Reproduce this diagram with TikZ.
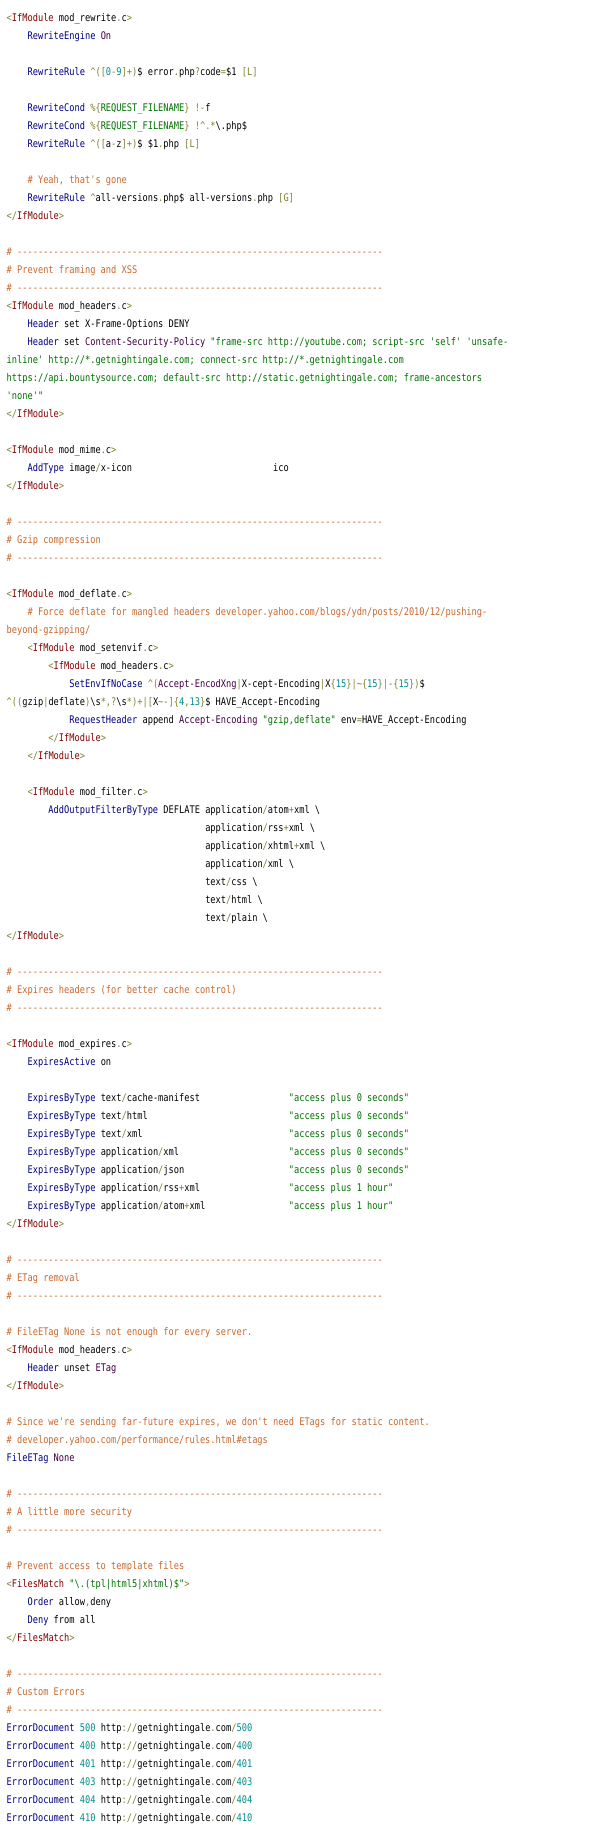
\documentclass[tikz,border=0pt]{standalone}
\usepackage{fontspec}
\setmonofont{DejaVu Sans Mono}
\usepackage{graphicx}
\definecolor{opc}{HTML}{808030}
\definecolor{kwc}{HTML}{800000}
\definecolor{dirc}{HTML}{000080}
\definecolor{valc}{HTML}{400040}
\definecolor{strc}{HTML}{007000}
\definecolor{cmtc}{HTML}{C8682D}
\definecolor{numc}{HTML}{008C8C}
\newcommand\Op[1]{\textcolor{opc}{#1}}
\newcommand\Kw[1]{\textcolor{kwc}{#1}}
\newcommand\Dr[1]{\textcolor{dirc}{#1}}
\newcommand\Vl[1]{\textcolor{valc}{#1}}
\newcommand\St[1]{\textcolor{strc}{#1}}
\newcommand\Cm[1]{\textcolor{cmtc}{#1}}
\newcommand\Nm[1]{\textcolor{numc}{#1}}
\newcommand\IfMod[1]{\Op{<}\Kw{IfModule} #1\Op{.}c\Op{>}}
\newcommand\EndIf{\Op{</}\Kw{IfModule}\Op{>}}
\newcommand\Dash{\Cm{\# ----------------------------------------------------------------------}}
\tikzset{code/.style={anchor=base west, inner sep=0pt, outer sep=0pt,
  font=\ttfamily\fontsize{10.5}{12}\selectfont\frenchspacing}}
\newcommand\Ln[3]{\node[code] (l#1c#2) at ({6.7+#2*5.225},{-21.5-18*#1}) {\scalebox{0.8266}[1]{#3}};}
\begin{document}
\begin{tikzpicture}[x=1pt,y=1pt]
\fill[white] (0,0) rectangle (600,-1834);
\useasboundingbox (0,0) rectangle (600,-1834);
\Ln{0}{0}{\IfMod{mod\_rewrite}}
\Ln{1}{4}{\Dr{RewriteEngine} \Vl{On}}
\Ln{3}{4}{\Dr{RewriteRule} \Op{\textasciicircum([}\Nm{0}\Op{-}\Nm{9}\Op{]+)}\$ error\Op{.}php\Op{?}code\Op{=}\$1 \Op{[L]}}
\Ln{5}{4}{\Dr{RewriteCond} \Op{\%\{}\St{REQUEST\_FILENAME}\Op{\}} \Op{!-}f}
\Ln{6}{4}{\Dr{RewriteCond} \Op{\%\{}\St{REQUEST\_FILENAME}\Op{\}} \Op{!\textasciicircum.*}\textbackslash.php\$}
\Ln{7}{4}{\Dr{RewriteRule} \Op{\textasciicircum([}a\Op{-}z\Op{]+)}\$ \$1\Op{.}php \Op{[L]}}
\Ln{9}{4}{\Cm{\# Yeah, that's gone}}
\Ln{10}{4}{\Dr{RewriteRule} \Op{\textasciicircum}all-versions\Op{.}php\$ all-versions\Op{.}php \Op{[G]}}
\Ln{11}{0}{\EndIf}
\Ln{13}{0}{\Dash}
\Ln{14}{0}{\Cm{\# Prevent framing and XSS}}
\Ln{15}{0}{\Dash}
\Ln{16}{0}{\IfMod{mod\_headers}}
\Ln{17}{4}{\Dr{Header} set X-Frame-Options DENY}
\Ln{18}{4}{\Dr{Header} set \Vl{Content-Security-Policy} \St{"frame-src http://youtube.com; script-src 'self' 'unsafe-}}
\Ln{19}{0}{\St{inline' http://*.getnightingale.com; connect-src http://*.getnightingale.com}}
\Ln{20}{0}{\St{https://api.bountysource.com; default-src http://static.getnightingale.com; frame-ancestors}}
\Ln{21}{0}{\St{'none'"}}
\Ln{22}{0}{\EndIf}
\Ln{24}{0}{\IfMod{mod\_mime}}
\Ln{25}{4}{\Dr{AddType} image\Op{/}x-icon}
\Ln{25}{51}{ico}
\Ln{26}{0}{\EndIf}
\Ln{28}{0}{\Dash}
\Ln{29}{0}{\Cm{\# Gzip compression}}
\Ln{30}{0}{\Dash}
\Ln{32}{0}{\IfMod{mod\_deflate}}
\Ln{33}{4}{\Cm{\# Force deflate for mangled headers developer.yahoo.com/blogs/ydn/posts/2010/12/pushing-}}
\Ln{34}{0}{\Cm{beyond-gzipping/}}
\Ln{35}{4}{\IfMod{mod\_setenvif}}
\Ln{36}{8}{\IfMod{mod\_headers}}
\Ln{37}{12}{\Dr{SetEnvIfNoCase} \Op{\textasciicircum(}\Vl{Accept-EncodXng}\Op{|}X-cept-Encoding\Op{|}X\Op{\{}\Nm{15}\Op{\}|\textasciitilde\{}\Nm{15}\Op{\}|-\{}\Nm{15}\Op{\})}\$}
\Ln{38}{0}{\Op{\textasciicircum((}gzip\Op{|}deflate\Op{)}\textbackslash s\Op{*,?}\textbackslash s\Op{*)+|[}X\Op{\textasciitilde-]\{}\Nm{4}\Op{,}\Nm{13}\Op{\}}\$ HAVE\_Accept-Encoding}
\Ln{39}{12}{\Dr{RequestHeader} append \Vl{Accept-Encoding} \St{"gzip,deflate"} env\Op{=}HAVE\_Accept-Encoding}
\Ln{40}{8}{\EndIf}
\Ln{41}{4}{\EndIf}
\Ln{43}{4}{\IfMod{mod\_filter}}
\Ln{44}{8}{\Dr{AddOutputFilterByType} DEFLATE}
\Ln{44}{38}{application\Op{/}atom\Op{+}xml \textbackslash}
\Ln{45}{38}{application\Op{/}rss\Op{+}xml \textbackslash}
\Ln{46}{38}{application\Op{/}xhtml\Op{+}xml \textbackslash}
\Ln{47}{38}{application\Op{/}xml \textbackslash}
\Ln{48}{38}{text\Op{/}css \textbackslash}
\Ln{49}{38}{text\Op{/}html \textbackslash}
\Ln{50}{38}{text\Op{/}plain \textbackslash}
\Ln{51}{0}{\EndIf}
\Ln{53}{0}{\Dash}
\Ln{54}{0}{\Cm{\# Expires headers (for better cache control)}}
\Ln{55}{0}{\Dash}
\Ln{57}{0}{\IfMod{mod\_expires}}
\Ln{58}{4}{\Dr{ExpiresActive} on}
\Ln{60}{4}{\Dr{ExpiresByType} text\Op{/}cache-manifest}
\Ln{60}{54}{\St{"access plus 0 seconds"}}
\Ln{61}{4}{\Dr{ExpiresByType} text\Op{/}html}
\Ln{61}{54}{\St{"access plus 0 seconds"}}
\Ln{62}{4}{\Dr{ExpiresByType} text\Op{/}xml}
\Ln{62}{54}{\St{"access plus 0 seconds"}}
\Ln{63}{4}{\Dr{ExpiresByType} application\Op{/}xml}
\Ln{63}{54}{\St{"access plus 0 seconds"}}
\Ln{64}{4}{\Dr{ExpiresByType} application\Op{/}json}
\Ln{64}{54}{\St{"access plus 0 seconds"}}
\Ln{65}{4}{\Dr{ExpiresByType} application\Op{/}rss\Op{+}xml}
\Ln{65}{54}{\St{"access plus 1 hour"}}
\Ln{66}{4}{\Dr{ExpiresByType} application\Op{/}atom\Op{+}xml}
\Ln{66}{54}{\St{"access plus 1 hour"}}
\Ln{67}{0}{\EndIf}
\Ln{69}{0}{\Dash}
\Ln{70}{0}{\Cm{\# ETag removal}}
\Ln{71}{0}{\Dash}
\Ln{73}{0}{\Cm{\# FileETag None is not enough for every server.}}
\Ln{74}{0}{\IfMod{mod\_headers}}
\Ln{75}{4}{\Dr{Header} unset \Vl{ETag}}
\Ln{76}{0}{\EndIf}
\Ln{78}{0}{\Cm{\# Since we're sending far-future expires, we don't need ETags for static content.}}
\Ln{79}{0}{\Cm{\# developer.yahoo.com/performance/rules.html\#etags}}
\Ln{80}{0}{\Dr{FileETag} \Vl{None}}
\Ln{82}{0}{\Dash}
\Ln{83}{0}{\Cm{\# A little more security}}
\Ln{84}{0}{\Dash}
\Ln{86}{0}{\Cm{\# Prevent access to template files}}
\Ln{87}{0}{\Op{<}\Kw{FilesMatch} \St{"\textbackslash.(tpl|html5|xhtml)\$"}\Op{>}}
\Ln{88}{4}{\Dr{Order} allow\Op{,}deny}
\Ln{89}{4}{\Dr{Deny} from all}
\Ln{90}{0}{\Op{</}\Kw{FilesMatch}\Op{>}}
\Ln{92}{0}{\Dash}
\Ln{93}{0}{\Cm{\# Custom Errors}}
\Ln{94}{0}{\Dash}
\Ln{95}{0}{\Dr{ErrorDocument} \Nm{500} http\Op{://}getnightingale\Op{.}com\Op{/}\Nm{500}}
\Ln{96}{0}{\Dr{ErrorDocument} \Nm{400} http\Op{://}getnightingale\Op{.}com\Op{/}\Nm{400}}
\Ln{97}{0}{\Dr{ErrorDocument} \Nm{401} http\Op{://}getnightingale\Op{.}com\Op{/}\Nm{401}}
\Ln{98}{0}{\Dr{ErrorDocument} \Nm{403} http\Op{://}getnightingale\Op{.}com\Op{/}\Nm{403}}
\Ln{99}{0}{\Dr{ErrorDocument} \Nm{404} http\Op{://}getnightingale\Op{.}com\Op{/}\Nm{404}}
\Ln{100}{0}{\Dr{ErrorDocument} \Nm{410} http\Op{://}getnightingale\Op{.}com\Op{/}\Nm{410}}
\end{tikzpicture}
\end{document}
